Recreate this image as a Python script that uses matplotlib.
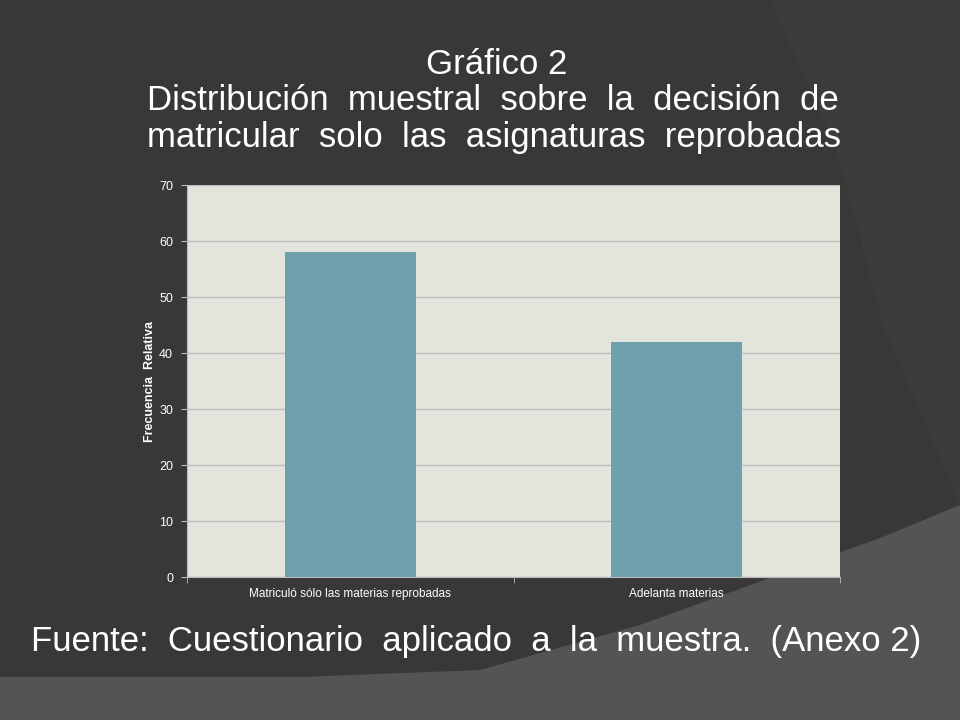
import matplotlib
matplotlib.use("Agg")
import matplotlib.pyplot as plt
from matplotlib.patches import Polygon

plt.rcParams['font.family'] = ['Liberation Sans', 'DejaVu Sans']

categorias = ["Matriculó sólo las materias reprobadas", "Adelanta materias"]
frecuencia = [58, 42]
y_ticks = [0, 10, 20, 30, 40, 50, 60, 70]

fig = plt.figure(figsize=(9.6, 7.2), dpi=100)
fig.patch.set_facecolor("#383838")

# decorative background shapes (slide theme)
fig.patches.append(Polygon([(770/960, 1), (1, 1), (1, 0.3), (0.92, 0.55), (0.87, 0.8)],
                           closed=True, transform=fig.transFigure,
                           facecolor="#3c3c3c", edgecolor="none", zorder=-5))
fig.patches.append(Polygon([(0, 43/720), (300/960, 43/720), (480/960, 50/720),
                            (640/960, 95/720), (880/960, 182/720), (1, 215/720),
                            (1, 0), (0, 0)],
                           closed=True, transform=fig.transFigure,
                           facecolor="#545454", edgecolor="none", zorder=-5))

ax = fig.add_axes([187/960, 143/720, 653/960, 392/720])
ax.set_facecolor("#e3e4dc")
ax.bar(range(len(categorias)), frecuencia, width=0.4, color="#6fa0b0", zorder=3)

ax.set_xlim(-0.5, 1.5)
ax.set_ylim(0, 70)
ax.set_yticks(y_ticks)
ax.set_xticks([0, 1])
ax.set_xticklabels(categorias)
ax.set_xticks([-0.5, 0.5, 1.5], minor=True)
ax.tick_params(axis='x', which='major', length=0, colors="white", labelsize=8.5, pad=8)
ax.tick_params(axis='x', which='minor', length=4, color="#bbbbbb")
ax.tick_params(axis='y', length=4, color="#bbbbbb", labelcolor="white", labelsize=9, pad=6)
ax.grid(axis='y', color="#c0c0c0", linewidth=1, zorder=1)
for s in ["top", "right"]:
    ax.spines[s].set_visible(False)
ax.spines["left"].set_color("#bbbbbb")
ax.spines["bottom"].set_color("#bbbbbb")
ax.set_ylabel("Frecuencia  Relativa", color="white", fontsize=9, fontweight="bold", labelpad=2)

fig.text(497/960, 1 - 64/720, "Gráfico 2", color="white", fontsize=25, ha="center", va="center")
fig.text(493/960, 1 - 101/720, "Distribución  muestral  sobre  la  decisión  de",
         color="white", fontsize=25, ha="center", va="center")
fig.text(494/960, 1 - 138/720, "matricular  solo  las  asignaturas  reprobadas",
         color="white", fontsize=25, ha="center", va="center")
fig.text(476/960, 1 - 641/720, "Fuente:  Cuestionario  aplicado  a  la  muestra.  (Anexo 2)",
         color="white", fontsize=25, ha="center", va="center")

fig.savefig("out.png", dpi=100, facecolor=fig.get_facecolor())
